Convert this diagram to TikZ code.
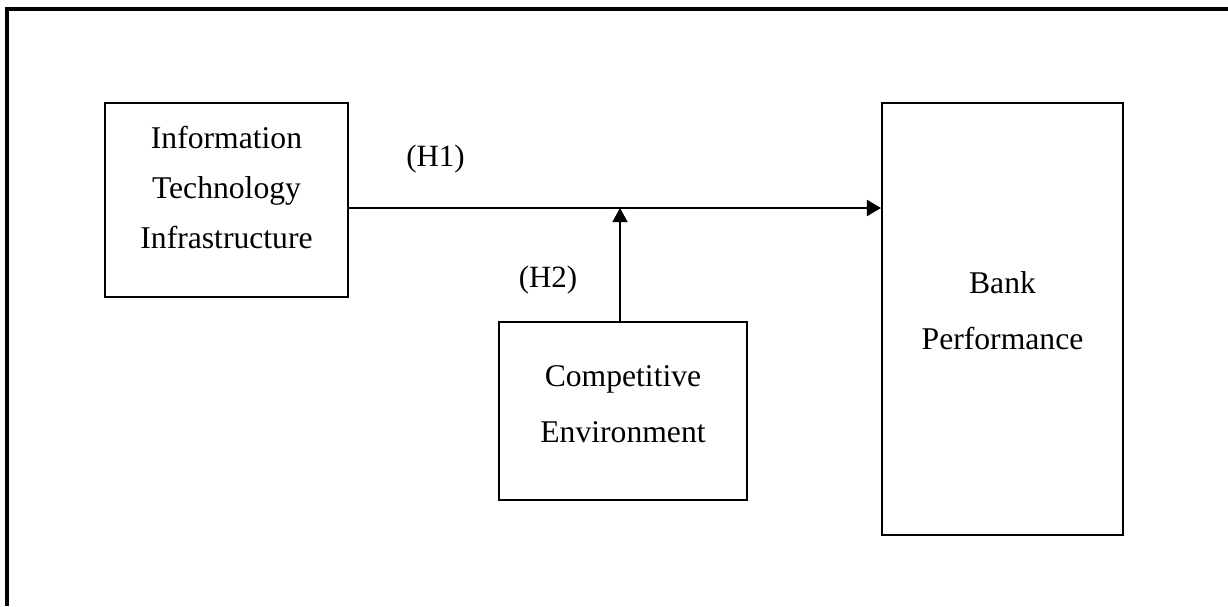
\documentclass[tikz,border=0pt]{standalone}
\usepackage{fontspec}
\setmainfont{Liberation Serif}
\usetikzlibrary{arrows.meta}

\begin{document}
\begin{tikzpicture}[x=0.025cm,y=-0.025cm]
\tikzset{mybox/.style={draw=black,line width=0.05cm,align=center,inner sep=0pt}}
\tikzset{myarrow/.style={-{Triangle[length=0.35cm,width=0.4cm]},line width=0.05cm}}
\def\boxfont{\fontsize{22.5}{35.5}\selectfont}
\def\widefont{\fontsize{22.5}{39.8}\selectfont}
\useasboundingbox (0,0) rectangle (1228,606);
\draw[line width=0.1cm] (7,606) -- (7,9) -- (1228,9);

\node[mybox,minimum width=6.075cm,minimum height=4.85cm,font=\boxfont,text depth=0.65cm] (ITI) at (226.5,200) {Information\\Technology\\Infrastructure};
\node[mybox,minimum width=6.025cm,minimum height=10.8cm,font=\widefont,text depth=0.4cm] (BP) at (1002.5,319) {Bank\\Performance};
\node[mybox,minimum width=6.2cm,minimum height=4.45cm,font=\widefont,text depth=0.35cm] (CE) at (623,411) {Competitive\\Environment};
\coordinate (mod) at (620,208);

\draw[myarrow] (ITI.east |- mod) -- (BP.west |- mod);
\draw[-{Triangle[length=0.35cm,width=0.375cm]},line width=0.033cm] (mod |- CE.north) -- (mod);
\node[anchor=base,font=\fontsize{22}{26}\selectfont] (H1) at (435.5,166) {(H1)};
\node[anchor=base,font=\fontsize{22}{26}\selectfont] (H2) at (548,287) {(H2)};
\end{tikzpicture}
\end{document}
